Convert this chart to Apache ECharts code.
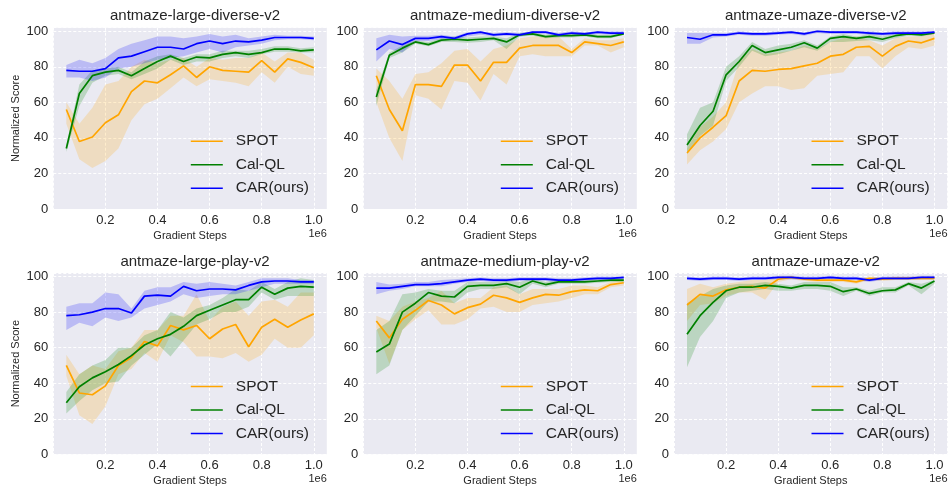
<!DOCTYPE html>
<html>
<head>
<meta charset="utf-8">
<script src="https://cdn.jsdelivr.net/npm/echarts@6/dist/echarts.min.js"></script>
<style>
  html, body { margin: 0; padding: 0; background: #fff; }
  #main { width: 951px; height: 489px; }
</style>
</head>
<body>
<div id="main"></div>
<script>
  // 各子图标题
  const titles = ['antmaze-large-diverse-v2', 'antmaze-medium-diverse-v2', 'antmaze-umaze-diverse-v2',
    'antmaze-large-play-v2', 'antmaze-medium-play-v2', 'antmaze-umaze-v2']
  const methods = ['SPOT', 'Cal-QL', 'CAR(ours)']
  const steps = [0.05, 0.1, 0.15, 0.2, 0.25, 0.3, 0.35, 0.4, 0.45, 0.5, 0.55, 0.6, 0.65, 0.7, 0.75, 0.8, 0.85, 0.9, 0.95, 1.0]

  // SPOT
  const spotMean = [
    [56, 38, 40.5, 48.5, 53, 66, 72, 71, 75.5, 80.5, 74, 80, 78, 77.5, 77, 83.5, 77, 84.5, 82.5, 79.5],
    [75, 56, 44, 70, 70, 69, 81, 81, 72, 82.5, 82.5, 90.5, 92, 92, 92, 88, 94, 93, 92, 94],
    [31.5, 40, 46, 52.5, 72, 78, 77.5, 78.5, 79, 80.5, 82, 86, 87, 91, 91.5, 86, 91.5, 94.5, 93.5, 96],
    [50, 34.5, 33.5, 38.5, 50, 54.5, 63.5, 61, 72.5, 70, 72.5, 65, 70.5, 73, 60.5, 71.5, 76, 71.5, 75.5, 79],
    [75, 65.5, 76, 81, 86.5, 84, 79, 82.5, 84.5, 89.5, 88, 85.5, 88, 90, 89.5, 91.5, 92.5, 92, 95.5, 96.5],
    [84, 90, 89, 92.5, 94, 94.5, 93.5, 98.5, 99.5, 98.5, 98, 98, 98, 97, 99, 98.5, 99, 99, 99, 99]
  ]
  const spotLo = [
    [48, 28, 23, 27, 34, 50, 59, 62, 68, 74, 69, 73, 72, 71, 69, 77, 71, 80, 76, 75],
    [60, 40, 27, 64, 62, 56, 72, 71, 61, 76, 70, 86, 87, 86, 86, 86, 92, 92, 88, 91],
    [25, 33, 38, 45, 60, 65, 69, 69, 67, 68, 75, 76, 77, 86, 86, 79, 86, 91, 90, 92],
    [44, 22, 17, 27, 45, 48, 57, 52, 67, 63, 55, 55, 54, 57, 52, 56, 65, 60, 60, 67],
    [71, 51, 70, 76, 81, 73, 73, 76, 82, 83, 80, 80, 84, 85, 86, 88, 90, 90, 94, 95],
    [75, 84, 85, 89, 91, 91, 87, 97, 98.5, 97.5, 97, 97, 97, 96, 98, 97.5, 98, 98, 98, 98]
  ]
  const spotHi = [
    [60, 48, 57, 70, 72, 80, 84, 82, 84, 85, 80, 85, 84, 85, 85, 88, 83, 88, 88, 84],
    [79, 72, 62, 76, 77, 82, 89, 90, 83, 90, 92, 96, 97, 97, 97, 90, 96, 95, 95, 96],
    [34, 46, 52, 60, 83, 90, 87, 88, 89, 92, 90, 94, 96, 97, 95, 92, 96, 97, 97, 99],
    [56, 45, 50, 48, 58, 60, 70, 70, 78, 78, 90, 75, 83, 86, 78, 86, 87, 83, 91, 91],
    [78, 75, 83, 86, 88, 92, 85, 88, 88, 94, 95, 90, 93, 93, 93, 95, 95, 94, 97, 98],
    [93, 96, 94, 96, 97, 98, 98, 100, 100.5, 99.5, 99, 99, 99, 98, 100, 99.5, 100, 100, 100, 100]
  ]

  // Cal-QL
  const calMean = [
    [34, 65, 75, 77, 78, 75, 79, 83, 86, 83, 85.5, 85, 87, 88, 87, 88, 90, 90, 89, 89.5],
    [63, 86.5, 90.5, 94, 92.5, 95, 95.5, 95, 95.5, 96, 94, 98, 98.5, 97, 97.5, 97.5, 98, 97, 97, 98.5],
    [36, 47, 55, 75.5, 83, 92, 88, 89.5, 91, 93.5, 90.5, 96, 97, 96, 97, 95.5, 97.5, 98.5, 98, 99],
    [29, 38, 43, 46.5, 50.5, 55.5, 61.5, 65, 67.5, 72, 78, 81, 84, 87, 87, 94, 90, 93.5, 94.5, 94],
    [57.5, 62, 80, 85, 91, 89, 88.5, 94.5, 95, 95, 96, 94, 97.5, 95.5, 97, 97, 97, 97.5, 98, 98],
    [67.5, 78, 85.5, 92, 94, 94, 95, 94.5, 93.5, 95, 95, 94.5, 91.5, 93, 90.5, 92, 92.5, 96, 93.5, 97.5]
  ]
  const calLo = [
    [32, 58, 71, 75, 76, 73, 76, 79, 84, 81, 83, 83, 85, 86, 85, 87, 88.5, 88.5, 88, 88],
    [58, 85, 88, 93, 91.5, 94, 94, 93.5, 94, 95, 90, 97, 97.5, 96, 96.5, 96.5, 97, 96, 96, 98],
    [31, 41, 47, 72, 80, 89, 86, 87, 89, 91, 89, 94, 94, 94.5, 95, 94, 96, 97.5, 97, 98.5],
    [23, 30, 36, 40, 41, 50, 56, 62, 55, 64, 73, 76, 80, 80, 83, 91, 87, 89, 89, 89],
    [45, 50, 70, 78, 86, 86, 85, 91, 93, 93, 94, 90, 96, 94, 96, 96, 96, 96.5, 97, 97],
    [49, 66, 75, 88, 91, 92, 93, 92, 92, 93, 93, 92, 89, 92, 89, 91, 91, 95, 90, 96]
  ]
  const calHi = [
    [36, 70, 78, 79, 80, 77, 83, 86, 87, 85, 87, 87, 89, 89, 89, 90, 91.5, 91.5, 90.5, 91],
    [67, 88, 92, 95, 94, 96, 97, 96.5, 97, 97, 96, 99, 99.5, 98, 98.5, 98.5, 99, 98, 98, 99],
    [42, 57, 60, 80, 86, 94, 90, 92, 93, 95, 92, 97, 98.5, 97, 98.5, 97, 98.5, 99.5, 99, 99.5],
    [35, 45, 50, 53, 60, 60, 67, 70, 80, 77, 82, 84, 88, 93, 92, 97, 93, 97, 99, 98],
    [70, 75, 90, 91, 93, 92, 92, 97, 97, 97, 97.5, 97, 99, 97, 98.5, 98, 98, 98.5, 99, 99],
    [85, 89, 93, 95, 96, 96, 97, 96, 95, 97, 97, 97, 94, 94, 92, 94, 94, 97, 96, 98]
  ]

  // CAR(ours)
  const carMean = [
    [78, 77.5, 77.5, 79, 85, 86, 88.5, 91, 91, 90, 93, 94.5, 93, 94.5, 94, 95, 96.5, 96.5, 96.5, 96],
    [89.5, 94.5, 92.5, 96, 96, 97, 96, 98.5, 99.5, 98, 98.5, 98, 99.5, 99.5, 98, 99, 98.5, 99.5, 99, 99],
    [96.5, 95.5, 98, 98, 99, 98.5, 98.5, 99, 99.5, 98.5, 100, 99.5, 99.5, 99.5, 99, 98.5, 99, 99, 99, 99.5],
    [78, 78.5, 80, 82, 82, 79.5, 89, 89.5, 89, 94.5, 92, 93, 93, 92.5, 95, 97, 97.5, 97.5, 97, 97],
    [93.5, 93.5, 94.5, 95.5, 95.5, 96, 97, 98, 98.5, 98, 98, 98.5, 98.5, 98.5, 98, 98, 98.5, 99, 99, 99.5],
    [99, 98.5, 99, 99, 98.5, 99, 99, 99.5, 99.5, 99, 99, 99.5, 99, 99, 98, 99, 99, 99, 99.5, 99.5]
  ]
  const carLo = [
    [74, 74, 72, 74, 79, 80, 82, 84, 85, 86, 88, 90, 88, 91, 92, 93, 95, 95.5, 95.5, 95],
    [83, 90, 88, 94.5, 94.5, 95.5, 95, 97, 98, 97, 97.5, 97, 98.5, 98.5, 97, 98, 97.5, 98.5, 98, 98],
    [93, 93, 96.5, 97, 98, 97.5, 97.5, 98, 98.5, 97.5, 99, 98.5, 98.5, 98.5, 98, 97.5, 98, 98, 98, 98.5],
    [70, 74, 72, 77, 75, 77, 82, 84, 86, 90, 88, 89, 90, 90, 92, 94, 96, 96, 96, 96],
    [90, 92, 93, 94.5, 94.5, 94.5, 96, 97, 97.5, 97, 97, 97.5, 97.5, 97.5, 97, 97, 97.5, 98, 98, 98.5],
    [98, 97.5, 98, 98, 97.5, 98, 98, 98.5, 98.5, 98, 98, 98.5, 98, 98, 97, 98, 98, 98, 98.5, 98.5]
  ]
  const carHi = [
    [81, 84, 82, 85, 90, 93, 95, 97, 97, 96, 97, 98.5, 97, 98, 96, 97, 98, 97.5, 97.5, 97],
    [96, 98, 97, 97.5, 97.5, 98, 97, 99.5, 100, 99, 99.5, 99, 100, 100, 99, 100, 99.5, 100, 100, 100],
    [99, 99, 99, 99, 100, 99.5, 99.5, 100, 100, 99.5, 100.5, 100, 100, 100, 100, 99.5, 100, 100, 100, 100],
    [83, 85, 85, 91, 90, 82, 92, 94, 94, 97, 96, 97, 96, 95, 97, 99, 99, 99, 98, 98],
    [97, 95.5, 96, 97, 97, 98, 98.5, 99, 99.5, 99, 99, 99.5, 99.5, 99.5, 99, 99, 99.5, 100, 100, 100],
    [100, 99.5, 100, 100, 99.5, 100, 100, 100.5, 100.5, 100, 100, 100.5, 100, 100, 99, 100, 100, 100, 100.5, 100.5]
  ]

  const chart = echarts.init(document.getElementById('main'))

  const colors = ['#FFA500', '#008000', '#0000FF']
  const bandColors = ['rgba(255,165,0,0.2)', 'rgba(0,128,0,0.2)', 'rgba(0,0,255,0.2)']
  const textColor = '#262626'
  const font = 'Liberation Sans, Arial, sans-serif'
  const gridLeft = [53.3, 363.3, 674]
  const gridTop = [27.7, 273]
  const gridW = 273.5
  const gridH = 181.3

  const means = [spotMean, calMean, carMean]
  const los = [spotLo, calLo, carLo]
  const his = [spotHi, calHi, carHi]

  // 置信带：在第一个数据项里画出整条多边形
  function bandRenderer(lo, hi, fill) {
    return (params, api) => {
      if (params.dataIndex !== 0) return
      const pts = []
      for (let i = 0; i < steps.length; i++) pts.push(api.coord([steps[i], lo[i]]))
      for (let i = steps.length - 1; i >= 0; i--) pts.push(api.coord([steps[i], hi[i]]))
      return { type: 'polygon', shape: { points: pts }, style: { fill: fill } }
    }
  }

  const grid = [], xAxis = [], yAxis = [], title = [], legend = [], series = [], graphic = []

  for (let p = 0; p < 6; p++) {
    const col = p % 3, row = Math.floor(p / 3)
    const gl = gridLeft[col], gt = gridTop[row]
    grid.push({
      left: gl, top: gt, width: gridW, height: gridH,
      show: true, backgroundColor: '#EAEAF2', borderWidth: 0
    })
    xAxis.push({
      type: 'value', gridIndex: p, min: 0, max: 1.05, interval: 0.2,
      name: 'Gradient Steps', nameLocation: 'middle', nameGap: 21,
      nameTextStyle: { fontSize: 11, color: textColor, fontFamily: font },
      axisLine: { show: false }, axisTick: { show: false },
      axisLabel: {
        showMinLabel: false, showMaxLabel: false, margin: 5,
        fontSize: 13, color: textColor, fontFamily: font,
        formatter: v => v.toFixed(1)
      },
      splitLine: { lineStyle: { color: '#fff', width: 1, type: [3, 2] } }
    })
    yAxis.push({
      type: 'value', gridIndex: p, min: 0, max: 102, interval: 20,
      name: col === 0 ? 'Normalized Score' : '', nameLocation: 'middle', nameGap: 32,
      nameTextStyle: { fontSize: 11, color: textColor, fontFamily: font },
      axisLine: { show: false }, axisTick: { show: false },
      axisLabel: { showMaxLabel: false, margin: 5, fontSize: 13, color: textColor, fontFamily: font },
      splitLine: { lineStyle: { color: '#fff', width: 1, type: [3, 2] } }
    })
    title.push({
      text: titles[p], left: gl + gridW / 2, top: gt - 24, textAlign: 'center',
      textStyle: { fontSize: 15, fontWeight: 'normal', color: textColor, fontFamily: font }
    })
    legend.push({
      data: methods, orient: 'vertical', selectedMode: false,
      left: gl + 132.5, top: gt + 100.5,
      icon: 'rect', itemWidth: 32, itemHeight: 1.5, itemGap: 7.5,
      textStyle: { fontSize: 15.5, lineHeight: 16, color: textColor, fontFamily: font, padding: [0, 0, 0, 8] }
    })
    graphic.push({
      type: 'text', right: 951 - (gl + gridW), top: gt + gridH + 19,
      style: { text: '1e6', fontSize: 11, fill: textColor, fontFamily: font }
    })

    for (let m = 0; m < 3; m++) {
      const lo = los[m][p], hi = his[m][p]
      series.push({
        type: 'custom', xAxisIndex: p, yAxisIndex: p, silent: true, z: 1,
        data: steps.map((x, i) => [x, lo[i], hi[i]]),
        encode: { x: 0, y: [1, 2] },
        renderItem: bandRenderer(lo, hi, bandColors[m])
      })
      // 均值曲线
      series.push({
        type: 'line', name: methods[m], xAxisIndex: p, yAxisIndex: p,
        symbol: 'none', color: colors[m], z: 3,
        lineStyle: { color: colors[m], width: 1.7 },
        data: steps.map((x, i) => [x, means[m][p][i]])
      })
    }
  }

  chart.setOption({
    animation: false,
    backgroundColor: '#fff',
    title, grid, xAxis, yAxis, legend, graphic, series
  })
</script>
</body>
</html>
